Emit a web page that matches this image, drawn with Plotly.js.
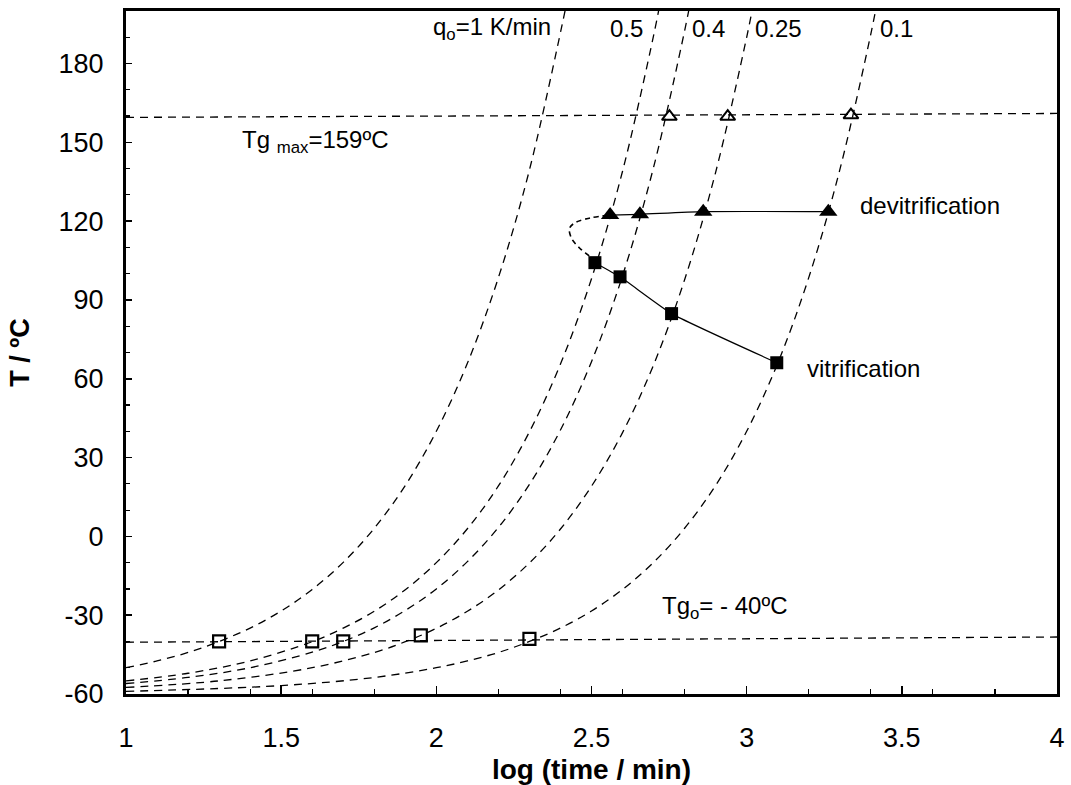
<!DOCTYPE html>
<html>
<head>
<meta charset="utf-8">
<script src="https://cdn.plot.ly/plotly-3.0.1.min.js"></script>
<style>html,body{margin:0;padding:0;background:#fff;}#chart{width:1071px;height:785px;}</style>
</head>
<body>
<div id="chart"></div>
<script>
// Heating-rate curves (log time vs T)
const q1X   = [1.0, 1.1, 1.2, 1.3, 1.4, 1.5, 1.6, 1.7, 1.8, 1.9, 2.0, 2.1, 2.2, 2.3, 2.42];
const q1T   = [-50, -47.4, -44.2, -40, -34.9, -28.4, -20.2, -9.9, 3.1, 19.4, 40, 65.9, 98.5, 139.5, 203];
const q05X  = [1.0, 1.2, 1.4, 1.6, 1.7, 1.8, 1.9, 2.0, 2.1, 2.2, 2.3, 2.4, 2.5, 2.6, 2.7, 2.72];
const q05T  = [-55, -52.1, -47.4, -40.1, -34.9, -28.5, -20.3, -10, 2.9, 19.2, 39.8, 65.6, 98.1, 139, 190.6, 202.4];
const q04X  = [1.0, 1.2, 1.4, 1.6, 1.7, 1.8, 1.9, 2.0, 2.1, 2.2, 2.3, 2.4, 2.5, 2.6, 2.7, 2.8, 2.82];
const q04T  = [-56, -53.7, -50, -44.1, -40, -34.8, -28.2, -20, -9.6, 3.4, 19.8, 40.5, 66.5, 99.2, 140.5, 192.4, 204.3];
const q025X = [1.0, 1.3, 1.6, 1.8, 1.9, 2.0, 2.1, 2.2, 2.3, 2.4, 2.5, 2.6, 2.7, 2.8, 2.9, 3.0, 3.02];
const q025T = [-57.5, -55, -50, -44.2, -40.1, -35, -28.5, -20.4, -10.1, 2.8, 19.1, 39.5, 65.3, 97.7, 138.6, 190, 201.8];
const q01X  = [1.0, 1.5, 1.8, 2.0, 2.1, 2.2, 2.3, 2.4, 2.5, 2.6, 2.7, 2.8, 2.9, 3.0, 3.1, 3.2, 3.3, 3.4, 3.42];
const q01T  = [-59, -56.8, -53.7, -50, -47.4, -44.2, -40, -34.9, -28.4, -20.2, -9.9, 3.1, 19.4, 40, 65.9, 98.5, 139.5, 191.2, 203];

// Reference lines Tg max and Tg0
const tgMaxX = [1, 4];
const tgMaxT = [159.5, 161];
const tg0X   = [1, 4];
const tg0T   = [-40.3, -38.3];

// Markers
const gelX = [1.3, 1.6, 1.7, 1.95, 2.3];           // open squares at Tg0
const gelT = [-40, -40, -40, -37.7, -39];
const tgmX = [2.751, 2.939, 3.336];                 // open triangles at Tg max
const tgmT = [159.8, 159.8, 160.4];
const devX = [2.560, 2.656, 2.860, 3.263];          // devitrification
const devT = [122.3, 122.6, 123.6, 123.6];
const vitX = [2.511, 2.592, 2.758, 3.097];          // vitrification
const vitT = [104.2, 98.8, 84.8, 66.1];
const loopX = [2.511, 2.495, 2.463, 2.436, 2.429, 2.447, 2.495, 2.560];
const loopT = [104.2, 106.5, 109.6, 113.4, 117.2, 119.4, 121.2, 122.3];

const xTickVals = [1, 1.5, 2, 2.5, 3, 3.5, 4];
const xTickText = ['1', '1.5', '2', '2.5', '3', '3.5', '4'];
const yTickVals = [-60, -30, 0, 30, 60, 90, 120, 150, 180];
const yTickText = ['-60', '-30', '0', '30', '60', '90', '120', '150', '180'];

const dashLine = {color: '#000', width: 1.3, dash: '8px,6px'};
function curve(x, y) {
  return {x: x, y: y, mode: 'lines', line: Object.assign({shape: 'spline', smoothing: 1}, dashLine), hoverinfo: 'skip'};
}

const traces = [
  curve(q1X, q1T), curve(q05X, q05T), curve(q04X, q04T), curve(q025X, q025T), curve(q01X, q01T),
  {x: tgMaxX, y: tgMaxT, mode: 'lines', line: dashLine},
  {x: tg0X, y: tg0T, mode: 'lines', line: dashLine},
  {x: loopX, y: loopT, mode: 'lines', line: {color: '#000', width: 1.6, dash: '5px,4px', shape: 'spline', smoothing: 1}},
  {x: devX, y: devT, mode: 'lines+markers', line: {color: '#000', width: 1.2, shape: 'spline', smoothing: 0.6},
   marker: {symbol: 'triangle-up', size: 16, color: '#000'}},
  {x: vitX, y: vitT, mode: 'lines+markers', line: {color: '#000', width: 1.2, shape: 'spline', smoothing: 0.4},
   marker: {symbol: 'square', size: 13, color: '#000'}},
  {x: gelX, y: gelT, mode: 'markers', marker: {symbol: 'square-open', size: 12, color: '#000', line: {width: 2.2, color: '#000'}}},
  {x: tgmX, y: tgmT, mode: 'markers', marker: {symbol: 'triangle-up-open', size: 13, color: '#000', line: {width: 2, color: '#000'}}}
];

const annFont = {family: 'Liberation Sans, Arial, sans-serif', size: 24, color: '#000'};
function ann(text, x, y, xanchor) {
  return {text: text, x: x, y: y, xref: 'x', yref: 'y', showarrow: false, xanchor: xanchor || 'left', yanchor: 'middle', font: annFont};
}

const layout = {
  width: 1071, height: 785,
  margin: {l: 126, r: 14, t: 11, b: 91},
  paper_bgcolor: '#fff', plot_bgcolor: '#fff',
  showlegend: false,
  font: {family: 'Liberation Sans, Arial, sans-serif', color: '#000'},
  xaxis: {
    range: [1, 4], tickvals: xTickVals, ticktext: xTickText,
    ticks: 'inside', ticklen: 8, tickwidth: 1.5, tickcolor: '#000',
    minor: {dtick: 0.2, tick0: 0, ticks: 'inside', ticklen: 5, tickwidth: 1.2, tickcolor: '#000', showgrid: false},
    showline: true, linewidth: 3, linecolor: '#000', mirror: true,
    showgrid: false, zeroline: false,
    tickfont: {size: 27, family: 'Liberation Sans, Arial, sans-serif'},
    ticklabelstandoff: 18,
    title: {text: '<b>log (time / min)</b>', font: {size: 28}, standoff: 8},
    automargin: false
  },
  yaxis: {
    range: [-60, 200], tickvals: yTickVals, ticktext: yTickText,
    ticks: 'inside', ticklen: 6, tickwidth: 1.5, tickcolor: '#000',
    minor: {dtick: 10, tick0: 0, ticks: 'inside', ticklen: 4, tickwidth: 1.2, tickcolor: '#000', showgrid: false},
    showline: true, linewidth: 3, linecolor: '#000', mirror: true,
    showgrid: false, zeroline: false,
    tickfont: {size: 27, family: 'Liberation Sans, Arial, sans-serif'},
    ticklabelstandoff: 14,
    title: {text: '<b>T / ºC</b>', font: {size: 27}, standoff: 22},
    automargin: false
  },
  annotations: [
    ann('q<sub>o</sub>=1 K/min', 2.376, 193.5, 'right'),
    ann('0.5', 2.672, 193.5, 'right'),
    ann('0.4', 2.817, 193.5),
    ann('0.25', 3.020, 193.5),
    ann('0.1', 3.423, 193.5),
    ann('Tg <sub>max</sub>=159ºC', 1.367, 150.4),
    ann('devitrification', 3.359, 126),
    ann('vitrification', 3.188, 63.8),
    ann('Tg<sub>o</sub>= - 40ºC', 2.721, -27)
  ]
};

Plotly.newPlot('chart', traces, layout, {staticPlot: true, displayModeBar: false});
</script>
</body>
</html>
